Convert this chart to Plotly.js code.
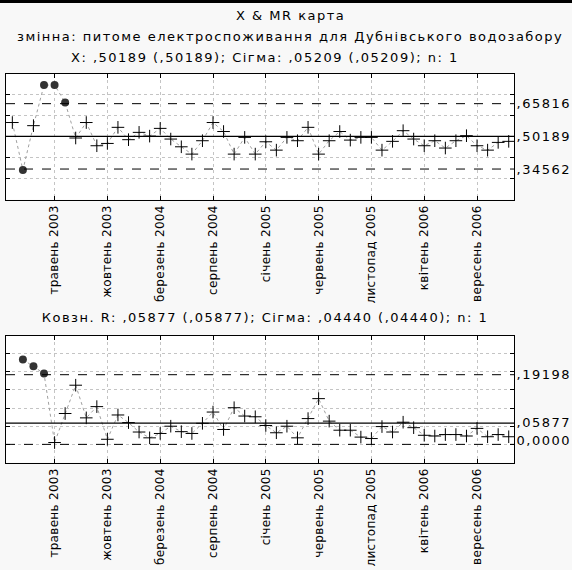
<!DOCTYPE html>
<html>
<head>
<meta charset="utf-8">
<script src="https://cdn.plot.ly/plotly-3.0.1.min.js"></script>
<style>
html,body{margin:0;padding:0;background:#f8f8f8;}
#topbar{position:absolute;left:0;top:0;width:572px;height:3px;background:#000;z-index:10;}
#chart{width:572px;height:570px;}
#chart .main-svg text{letter-spacing:1.5px;}
#chart .xtick text, #chart .x2tick text{letter-spacing:0.3px;}
</style>
</head>
<body>
<div id="topbar"></div>
<div id="chart"></div>
<script>
// Categories (one per monthly observation)
const months = [
  "січень 2003","лютий 2003","березень 2003","квітень 2003","травень 2003","червень 2003",
  "липень 2003","серпень 2003","вересень 2003","жовтень 2003","листопад 2003","грудень 2003",
  "січень 2004","лютий 2004","березень 2004","квітень 2004","травень 2004","червень 2004",
  "липень 2004","серпень 2004","вересень 2004","жовтень 2004","листопад 2004","грудень 2004",
  "січень 2005","лютий 2005","березень 2005","квітень 2005","травень 2005","червень 2005",
  "липень 2005","серпень 2005","вересень 2005","жовтень 2005","листопад 2005","грудень 2005",
  "січень 2006","лютий 2006","березень 2006","квітень 2006","травень 2006","червень 2006",
  "липень 2006","серпень 2006","вересень 2006","жовтень 2006","листопад 2006","грудень 2006"
];
// Tick labels shown on the x axes
const tickLabels = ["травень 2003","жовтень 2003","березень 2004","серпень 2004","січень 2005",
  "червень 2005","листопад 2005","квітень 2006","вересень 2006"];

// X chart: individual values
const xValues = [0.568,0.341,0.553,0.747,0.747,0.664,0.494,0.568,0.457,0.468,0.545,0.486,
  0.521,0.503,0.540,0.489,0.452,0.417,0.481,0.568,0.525,0.417,0.497,0.417,
  0.476,0.436,0.497,0.481,0.545,0.417,0.481,0.525,0.484,0.497,0.497,0.436,
  0.478,0.529,0.489,0.457,0.481,0.446,0.481,0.505,0.457,0.436,0.473,0.478];

// MR chart: moving ranges
const mrValues = [null,0.234,0.215,0.195,0.005,0.085,0.163,0.073,0.104,0.014,0.081,0.060,
  0.034,0.018,0.030,0.050,0.035,0.030,0.058,0.089,0.041,0.101,0.078,0.076,
  0.052,0.032,0.050,0.018,0.071,0.126,0.064,0.039,0.039,0.020,0.016,0.049,
  0.034,0.061,0.046,0.025,0.023,0.027,0.027,0.023,0.044,0.021,0.027,0.021];

// Control limits
const xLimits = {ucl:0.65816, cl:0.50189, lcl:0.34562};
const mrLimits = {ucl:0.19198, cl:0.05877, lcl:0.0};
const xLimitLabels = [",65816", ",50189", ",34562"];
const mrLimitLabels = [",19198", ",05877", "0,0000"];

// Texts
const mainTitle = "X & MR карта";
const subTitle = "змінна: питоме електроспоживання для Дубнівського водозабору";
const xChartTitle = "X: ,50189 (,50189); Сігма: ,05209 (,05209); n: 1";
const mrChartTitle = "Ковзн. R: ,05877 (,05877); Сігма: ,04440 (,04440); n: 1";

const FONT = "DejaVu Sans";
const H = 570;
function py(px){ return 1 - px/H; }

function split(vals, lim){
  const inX=[],inY=[],outX=[],outY=[];
  vals.forEach((v,i)=>{
    if(v===null) return;
    if(v>lim.ucl || v<lim.lcl){ outX.push(months[i]); outY.push(v); }
    else { inX.push(months[i]); inY.push(v); }
  });
  return {inX,inY,outX,outY};
}

function tracesFor(vals, lim, xa, ya){
  const s = split(vals, lim);
  return [
    {x:months, y:vals, xaxis:xa, yaxis:ya, type:'scatter', mode:'lines',
     line:{color:'#a0a0a0', width:1, dash:'dot'}, hoverinfo:'skip', connectgaps:false},
    {x:s.inX, y:s.inY, xaxis:xa, yaxis:ya, type:'scatter', mode:'markers',
     marker:{symbol:'cross-thin-open', size:9, color:'#000', line:{color:'#000', width:1}}},
    {x:s.outX, y:s.outY, xaxis:xa, yaxis:ya, type:'scatter', mode:'markers',
     marker:{symbol:'circle', size:8, color:'#333'}}
  ];
}

const data = [].concat(tracesFor(xValues, xLimits, 'x', 'y'), tracesFor(mrValues, mrLimits, 'x2', 'y2'));

function limitShapes(lim, xr, yr){
  return [
    {type:'line', xref:xr+' domain', yref:yr, x0:0, x1:1, y0:lim.ucl, y1:lim.ucl, line:{color:'#000', width:1, dash:'dash'}},
    {type:'line', xref:xr+' domain', yref:yr, x0:0, x1:1, y0:lim.cl, y1:lim.cl, line:{color:'#000', width:1.2}},
    {type:'line', xref:xr+' domain', yref:yr, x0:0, x1:1, y0:lim.lcl, y1:lim.lcl, line:{color:'#000', width:1, dash:'dash'}}
  ];
}

const axisFont = {family:FONT, size:12, color:'#000'};
function xaxisDef(anchor){
  return {anchor:anchor, type:'category', categoryorder:'array', categoryarray:months,
    range:[-0.6, 47.5], tickvals:tickLabels, ticktext:tickLabels, tickangle:-90,
    tickfont:axisFont, ticks:'inside', ticklen:4, tickcolor:'#000', mirror:'ticks',
    showline:true, linecolor:'#000', linewidth:1, showgrid:true, gridcolor:'#c4c4c4',
    griddash:'dot', gridwidth:1, zeroline:false, automargin:false, fixedrange:true};
}
function yaxisDef(anchor, domain, range, dtick){
  return {anchor:anchor, domain:domain, range:range, dtick:dtick, showticklabels:false,
    ticks:'inside', ticklen:4, tickcolor:'#000', mirror:'ticks', showline:true,
    linecolor:'#000', linewidth:1, showgrid:true, gridcolor:'#c4c4c4', griddash:'dot',
    gridwidth:1, zeroline:false, automargin:false, fixedrange:true};
}

function ann(text, x, y, opts){
  return Object.assign({text:text, xref:'paper', yref:'paper', x:x, y:y, showarrow:false,
    font:{family:FONT, size:13, color:'#000'}, xanchor:'center', yanchor:'middle'}, opts||{});
}

const annotations = [
  ann(mainTitle, 0.56, py(16)),
  ann(subTitle, 0.56, py(37)),
  ann(xChartTitle, 0.51, py(58)),
  ann(mrChartTitle, 0.51, py(317)),
  ann(xLimitLabels[0], 1, xLimits.ucl, {yref:'y', xanchor:'left', xshift:5}),
  ann(xLimitLabels[1], 1, xLimits.cl, {yref:'y', xanchor:'left', xshift:5}),
  ann(xLimitLabels[2], 1, xLimits.lcl, {yref:'y', xanchor:'left', xshift:5}),
  ann(mrLimitLabels[0], 1, mrLimits.ucl, {yref:'y2', xanchor:'left', xshift:5}),
  ann(mrLimitLabels[1], 1, mrLimits.cl, {yref:'y2', xanchor:'left', xshift:5, yshift:1}),
  ann(mrLimitLabels[2], 1, mrLimits.lcl, {yref:'y2', xanchor:'left', xshift:5, yshift:4})
];

const layout = {
  width:572, height:570,
  margin:{l:6, r:58, t:0, b:0, pad:0},
  paper_bgcolor:'#f8f8f8', plot_bgcolor:'#ffffff',
  showlegend:false,
  xaxis: xaxisDef('y'),
  yaxis: yaxisDef('x', [py(199.5), py(74)], [0.2, 0.8], 0.1),
  xaxis2: xaxisDef('y2'),
  yaxis2: yaxisDef('x2', [py(462.5), py(335.5)], [-0.05, 0.3], 0.05),
  shapes: [].concat(limitShapes(xLimits,'x','y'), limitShapes(mrLimits,'x2','y2')),
  annotations: annotations
};

Plotly.newPlot('chart', data, layout, {displayModeBar:false, staticPlot:true});
</script>
</body>
</html>
